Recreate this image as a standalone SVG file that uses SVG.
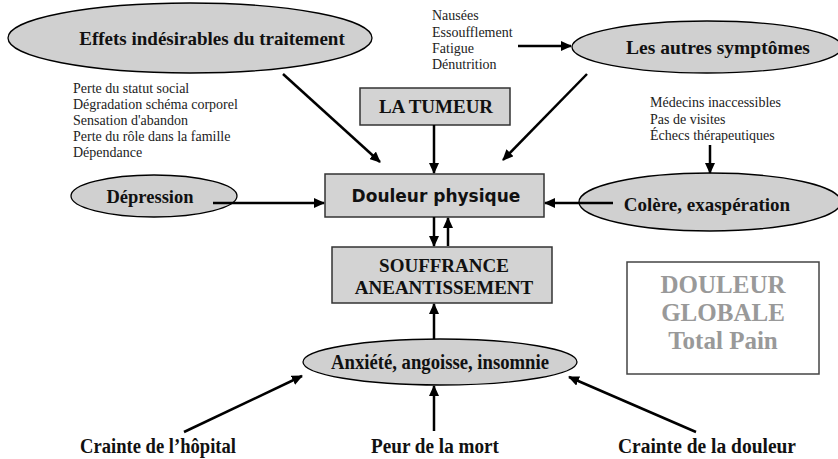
<svg xmlns="http://www.w3.org/2000/svg" width="838" height="459" viewBox="0 0 838 459">
<defs>
<marker id="ah" markerUnits="userSpaceOnUse" markerWidth="12" markerHeight="10" refX="10" refY="5" orient="auto">
<path d="M0,0 L11,5 L0,10 z" fill="#000"/>
</marker>
</defs>
<style>
.ell{fill:#d0d0d0;stroke:#000;stroke-width:1.3}
.box{fill:#d3d3d3;stroke:#333;stroke-width:1.5}
.t{font-family:"Liberation Serif","Times New Roman",serif;font-weight:bold;fill:#111;text-anchor:middle}
.s{font-family:"Liberation Serif","Times New Roman",serif;font-size:14px;fill:#222}
.dg{font-family:"Liberation Serif","Times New Roman",serif;font-weight:bold;font-size:25px;fill:#999;text-anchor:middle}
.c line{stroke:#000;stroke-width:2.5;marker-end:url(#ah)}
</style>
<rect width="838" height="459" fill="#fff"/>
<g id="effets">
<ellipse class="ell" cx="190" cy="38" rx="182" ry="35"/>
<text class="t" x="212" y="45" font-size="19">Effets indésirables du traitement</text>
</g>
<g id="effets-liste">
<text class="s" x="73" y="93">Perte du statut social</text>
<text class="s" x="73" y="109">Dégradation schéma corporel</text>
<text class="s" x="73" y="125">Sensation d'abandon</text>
<text class="s" x="73" y="141">Perte du rôle dans la famille</text>
<text class="s" x="73" y="157">Dépendance</text>
</g>
<g id="autres">
<ellipse class="ell" cx="707" cy="47" rx="135" ry="26"/>
<text class="t" x="718" y="54" font-size="19.5">Les autres symptômes</text>
</g>
<g id="autres-liste">
<text class="s" x="432" y="20">Nausées</text>
<text class="s" x="432" y="37">Essoufflement</text>
<text class="s" x="432" y="53">Fatigue</text>
<text class="s" x="432" y="69">Dénutrition</text>
</g>
<g id="tumeur">
<rect class="box" x="360" y="88" width="150" height="37"/>
<text class="t" x="436" y="113" font-size="19">LA TUMEUR</text>
</g>
<g id="colere-liste">
<text class="s" x="650" y="107">Médecins inaccessibles</text>
<text class="s" x="650" y="124">Pas de visites</text>
<text class="s" x="650" y="140">Échecs thérapeutiques</text>
</g>
<g id="douleur">
<rect class="box" x="325" y="174" width="219" height="43"/>
<text x="436" y="202" font-family="'Comic Sans MS','DejaVu Sans',sans-serif" font-weight="bold" font-size="17" text-anchor="middle" fill="#111">Douleur physique</text>
</g>
<g id="depression">
<ellipse class="ell" cx="154" cy="196" rx="83" ry="21"/>
<text class="t" x="150" y="203" font-size="18.5">Dépression</text>
</g>
<g id="colere">
<ellipse class="ell" cx="710" cy="202" rx="131" ry="29"/>
<text class="t" x="707" y="211" font-size="19">Colère, exaspération</text>
</g>
<g id="souffrance">
<rect class="box" x="332" y="247" width="220" height="56"/>
<text class="t" x="444" y="272" font-size="19">SOUFFRANCE</text>
<text class="t" x="444" y="294" font-size="19">ANEANTISSEMENT</text>
</g>
<g id="douleur-globale">
<rect x="627" y="262" width="192" height="112" fill="#fff" stroke="#444" stroke-width="1.5"/>
<text class="dg" x="723" y="293">DOULEUR</text>
<text class="dg" x="723" y="321">GLOBALE</text>
<text class="dg" x="723" y="349">Total Pain</text>
</g>
<g id="anxiete">
<ellipse class="ell" cx="440" cy="362" rx="137" ry="23"/>
<text class="t" x="440" y="369" font-size="20" textLength="218" lengthAdjust="spacingAndGlyphs">Anxiété, angoisse, insomnie</text>
</g>
<g id="crainte-hopital"><text class="t" x="158" y="453" font-size="20.5" textLength="156" lengthAdjust="spacingAndGlyphs">Crainte de l’hôpital</text></g>
<g id="peur-mort"><text class="t" x="435" y="453" font-size="20.5" textLength="128" lengthAdjust="spacingAndGlyphs">Peur de la mort</text></g>
<g id="crainte-douleur"><text class="t" x="707" y="453" font-size="20.5" textLength="178" lengthAdjust="spacingAndGlyphs">Crainte de la douleur</text></g>
<g id="connectors" class="c">
<line x1="283" y1="74" x2="380" y2="162"/>
<line x1="587" y1="74" x2="503" y2="160"/>
<line x1="518" y1="46" x2="571" y2="46"/>
<line x1="434" y1="125" x2="434" y2="173"/>
<line x1="710" y1="145" x2="710" y2="173"/>
<line x1="213" y1="203" x2="324" y2="203"/>
<line x1="613" y1="203" x2="545" y2="203"/>
<line x1="434" y1="217" x2="434" y2="246"/>
<line x1="448" y1="246" x2="448" y2="218"/>
<line x1="434" y1="339" x2="434" y2="304"/>
<line x1="184" y1="432" x2="302" y2="376"/>
<line x1="434" y1="431" x2="434" y2="386"/>
<line x1="696" y1="432" x2="569" y2="377"/>
</g>
</svg>
